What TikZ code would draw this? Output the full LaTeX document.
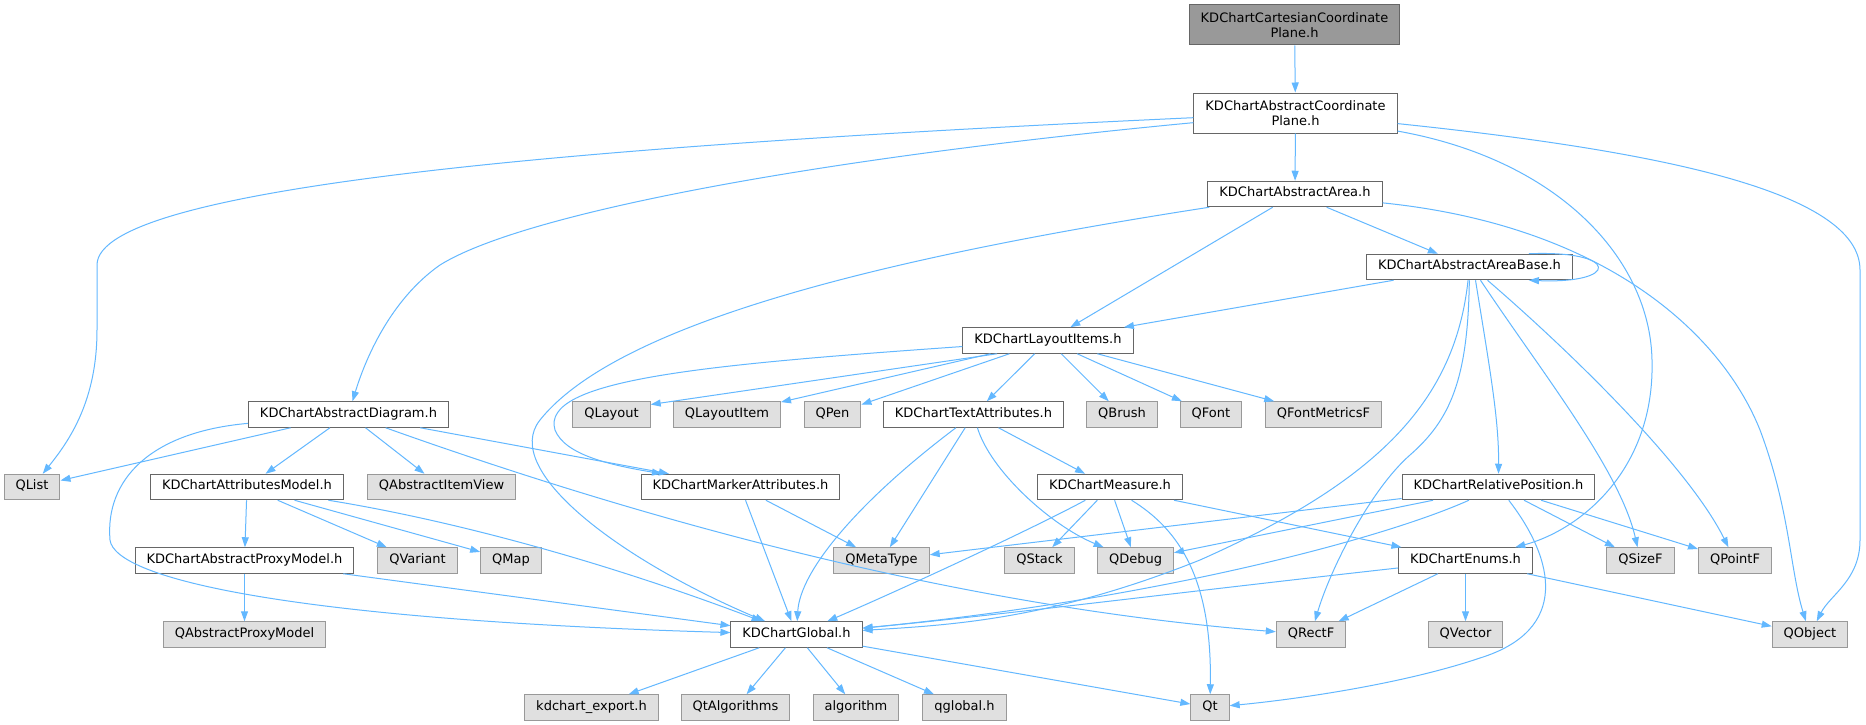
\documentclass[tikz,border=0pt]{standalone}
\usepackage{fontspec}
\setmainfont{DejaVu Sans}
\usetikzlibrary{arrows.meta,calc}
\definecolor{edgec}{HTML}{63B8FF}
\definecolor{bordc}{HTML}{666666}
\definecolor{extb}{HTML}{999999}
\definecolor{extf}{HTML}{E0E0E0}
\definecolor{rootf}{HTML}{999999}
\newcommand\dvfont{\fontsize{13pt}{15pt}\selectfont}
\tikzset{
  box/.style={draw=bordc, fill=white, line width=1pt, minimum height=25.5pt,
    inner xsep=11.5pt, inner ysep=0pt, text height=9pt, text depth=4pt, font=\dvfont},
  ext/.style={box, draw=extb, fill=extf},
  twoline/.style={draw=bordc, fill=white, line width=1pt, minimum height=40pt,
    inner xsep=11.5pt, inner ysep=0pt, align=center, font=\dvfont},
  rootbox/.style={twoline, fill=rootf},
  e/.style={draw=edgec, line width=1pt, -{Triangle[length=10pt,width=7pt]}}
}
\begin{document}
\begin{tikzpicture}[x=1pt,y=-1pt]
\useasboundingbox[fill=white] (0,0) rectangle (1866,725);
% nodes
\node[rootbox] (root) at (1294.5,25) {KDChartCartesianCoordinate\\Plane.h};
\node[twoline] (acp) at (1295.5,113) {KDChartAbstractCoordinate\\Plane.h};
\node[box] (aa) at (1295,194) {KDChartAbstractArea.h};
\node[box] (aab) at (1469.5,267) {KDChartAbstractAreaBase.h};
\node[box] (li) at (1048,340.5) {KDChartLayoutItems.h};
\node[box] (ad) at (348.5,414.5) {KDChartAbstractDiagram.h};
\node[ext] (qlayout) at (611.5,414.5) {QLayout};
\node[ext] (qlayoutitem) at (727,414.5) {QLayoutItem};
\node[ext] (qpen) at (832.5,414.5) {QPen};
\node[box] (ta) at (973.5,414.5) {KDChartTextAttributes.h};
\node[ext] (qbrush) at (1122,414.5) {QBrush};
\node[ext] (qfont) at (1211,414.5) {QFont};
\node[ext] (qfm) at (1323.5,414.5) {QFontMetricsF};
\node[ext] (qlist) at (32,487) {QList};
\node[box] (am) at (247,487) {KDChartAttributesModel.h};
\node[ext] (qaiv) at (441.5,487) {QAbstractItemView};
\node[box] (ma) at (740.5,487) {KDChartMarkerAttributes.h};
\node[box] (me) at (1110,487) {KDChartMeasure.h};
\node[box] (rp) at (1498.5,487) {KDChartRelativePosition.h};
\node[box] (apm) at (244.5,560.5) {KDChartAbstractProxyModel.h};
\node[ext] (qvariant) at (417.5,560.5) {QVariant};
\node[ext] (qmap) at (511,560.5) {QMap};
\node[ext] (qmetatype) at (881.5,560.5) {QMetaType};
\node[ext] (qstack) at (1039.5,560.5) {QStack};
\node[ext] (qdebug) at (1135.5,560.5) {QDebug};
\node[box] (en) at (1465.5,560.5) {KDChartEnums.h};
\node[ext] (qsizef) at (1640.5,560.5) {QSizeF};
\node[ext] (qpointf) at (1735,560.5) {QPointF};
\node[ext] (qapm) at (244.5,634.5) {QAbstractProxyModel};
\node[box] (gl) at (796.5,634.5) {KDChartGlobal.h};
\node[ext] (qrectf) at (1311,634.5) {QRectF};
\node[ext] (qvector) at (1465.5,634.5) {QVector};
\node[ext] (qobject) at (1810,634.5) {QObject};
\node[ext] (exp) at (591.5,707.5) {kdchart\_export.h};
\node[ext] (qtalg) at (735.5,707.5) {QtAlgorithms};
\node[ext] (algo) at (856,707.5) {algorithm};
\node[ext] (qglobal) at (964.5,707.5) {qglobal.h};
\node[ext] (qt) at (1210,707.5) {Qt};
% edges
\draw[e] (root) -- (acp);
\draw[e] (acp) -- (aa);
\draw[e] (acp) .. controls (600,145) and (97,185) .. (97,265) -- (97,330) .. controls (97,400) and (70,440) .. (qlist);
\draw[e] (acp) .. controls (800,160) and (520,215) .. (440,265) .. controls (390,300) and (365,360) .. (ad);
\draw[e] (acp) .. controls (1560,160) and (1650,260) .. (1652,360) .. controls (1655,470) and (1580,530) .. (en);
\draw[e] (acp) .. controls (1650,150) and (1860,190) .. (1860,270) -- (1860,540) .. controls (1860,580) and (1830,595) .. (qobject);
\draw[e] (aa) -- (aab);
\draw[e] (aa) -- (li);
\draw[e] (aa) .. controls (900,255) and (620,320) .. (540,420) .. controls (500,470) and (620,560) .. (gl);
\draw[e] (aa) .. controls (1600,225) and (1720,330) .. (1760,430) .. controls (1790,510) and (1790,570) .. (qobject);
\draw[e] ($(aab.north east)+(-44,0)$) .. controls (1620,250) and (1620,284) .. ($(aab.south east)+(-44,0)$);
\draw[e] (aab) -- (li);
\draw[e] (aab) .. controls (1455,400) and (1380,480) .. (1200,560) .. controls (1050,620) and (950,625) .. (gl);
\draw[e] (aab) .. controls (1468,380) and (1450,420) .. (1410,455) .. controls (1370,490) and (1330,570) .. (qrectf);
\draw[e] ($(aab.south)+(6,0)$) .. controls (1490,370) and (1499,420) .. (rp.north);
\draw[e] ($(aab.south)+(11,0)$) .. controls (1540,370) and (1620,470) .. (qsizef);
\draw[e] ($(aab.south)+(18,0)$) .. controls (1580,360) and (1690,470) .. (qpointf);
\draw[e] (li) .. controls (700,365) and (540,380) .. (555,430) .. controls (565,455) and (610,465) .. (ma);
\draw[e] ($(li.south)+(-51,0)$) -- ($(qlayout.east)+(0,-10)$);
\draw[e] (li) -- (qlayoutitem);
\draw[e] (li) -- (qpen);
\draw[e] (li) -- (ta);
\draw[e] (li) -- (qbrush);
\draw[e] (li) -- (qfont);
\draw[e] (li) -- (qfm);
\draw[e] (ad) -- (qlist);
\draw[e] (ad) -- (am);
\draw[e] (ad) -- (qaiv);
\draw[e] (ad) -- (ma);
\draw[e] (ad) .. controls (700,540) and (1000,610) .. (qrectf);
\draw[e] (ad) .. controls (150,432) and (105,480) .. (110,540) .. controls (115,580) and (300,620) .. (gl);
\draw[e] (ta) -- (me);
\draw[e] (ta) -- (qmetatype);
\draw[e] (ta) .. controls (990,470) and (1050,525) .. (qdebug);
\draw[e] (ta) .. controls (860,500) and (800,570) .. (gl);
\draw[e] (am) -- (apm);
\draw[e] (am) -- (qvariant);
\draw[e] (am) -- (qmap);
\draw[e] (am) .. controls (450,520) and (600,560) .. (gl);
\draw[e] (ma) -- (qmetatype);
\draw[e] (ma) -- (gl);
\draw[e] (me) -- (qstack);
\draw[e] (me) -- (qdebug);
\draw[e] (me) .. controls (1030,530) and (900,590) .. (gl);
\draw[e] (me) .. controls (1180,530) and (1212,580) .. (qt);
\draw[e] (me) -- (en);
\draw[e] (rp) -- (qmetatype);
\draw[e] (rp) -- (qdebug);
\draw[e] (rp) .. controls (1380,540) and (1150,600) .. (gl);
\draw[e] (rp) -- (qsizef);
\draw[e] (rp) -- (qpointf);
\draw[e] (rp) .. controls (1555,560) and (1570,630) .. (1480,658) .. controls (1400,685) and (1290,700) .. (qt);
\draw[e] (apm) -- (qapm);
\draw[e] (apm) -- (gl);
\draw[e] (en) .. controls (1200,590) and (1000,615) .. (gl);
\draw[e] (en) -- (qrectf);
\draw[e] (en) -- (qvector);
\draw[e] (en) -- (qobject);
\draw[e] (gl) -- (exp);
\draw[e] (gl) -- (qtalg);
\draw[e] (gl) -- (algo);
\draw[e] (gl) -- (qglobal);
\draw[e] (gl) -- (qt);
\end{tikzpicture}
\end{document}
